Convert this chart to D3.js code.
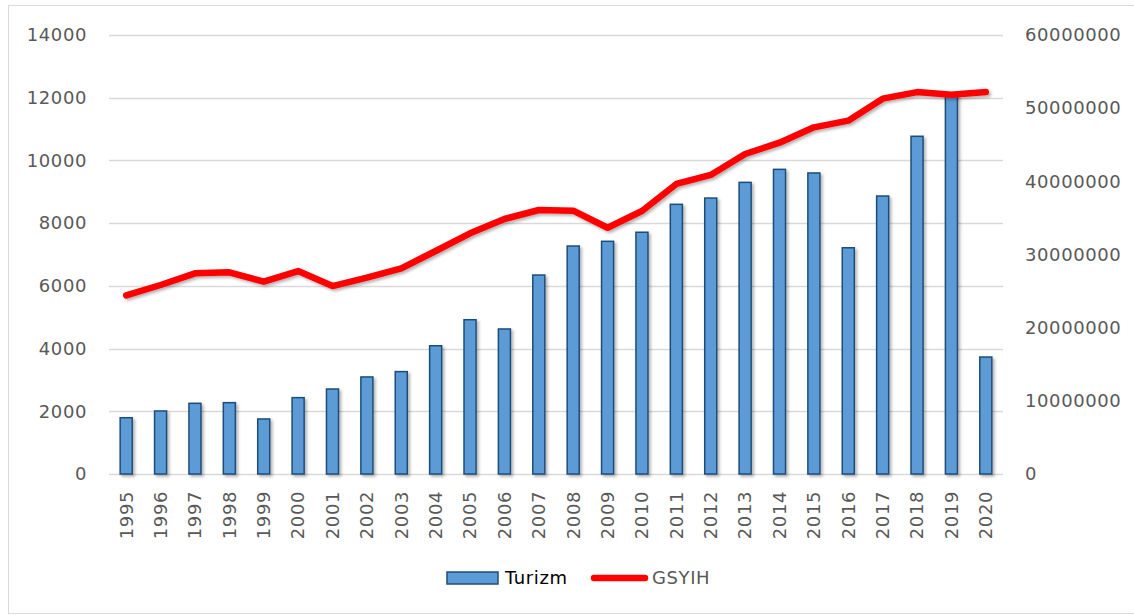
<!DOCTYPE html>
<html>
<head>
<meta charset="utf-8">
<script src="https://cdn.jsdelivr.net/npm/d3@7"></script>
<style>
  html, body { margin: 0; padding: 0; background: #fff; }
  svg { display: block; }
  text { font-family: "DejaVu Sans", sans-serif; letter-spacing: 0.6px; }
</style>
</head>
<body>
<svg id="chart" width="1134" height="616"></svg>
<script>
const years = ["1995","1996","1997","1998","1999","2000","2001","2002","2003","2004","2005","2006","2007","2008","2009","2010","2011","2012","2013","2014","2015","2016","2017","2018","2019","2020"];
const turizm = [1795,2010,2255,2275,1755,2435,2710,3095,3265,4090,4920,4625,6345,7270,7420,7710,8600,8800,9300,9715,9600,7215,8865,10770,12080,3730];
const gsyih = [24420000,25830000,27430000,27560000,26280000,27740000,25690000,26830000,28110000,30480000,32890000,34850000,36080000,35990000,33660000,35950000,39640000,40870000,43740000,45280000,47380000,48290000,51300000,52200000,51840000,52200000];
const leftTicks = [0,2000,4000,6000,8000,10000,12000,14000];
const rightTicks = [0,10000000,20000000,30000000,40000000,50000000,60000000];
const seriesNames = ["Turizm","GSYIH"];

const svg = d3.select("#chart");
const m = {left: 109, right: 1003, top: 35, bottom: 474};

// outer border
svg.append("rect").attr("x", 8.5).attr("y", 5.5).attr("width", 1140).attr("height", 608)
  .attr("fill", "#fff").attr("stroke", "#d9d9d9").attr("stroke-width", 1);

const defs = svg.append("defs");
const f = defs.append("filter").attr("id", "shadow").attr("x", "-30%").attr("y", "-10%").attr("width", "160%").attr("height", "130%");
f.append("feDropShadow").attr("dx", 2).attr("dy", 2).attr("stdDeviation", 1.8).attr("flood-color", "#000").attr("flood-opacity", 0.3);

const x = d3.scaleBand().domain(years).range([m.left, m.right]).paddingInner(0.65).paddingOuter(0.325);
const yL = d3.scaleLinear().domain([0, 14000]).range([m.bottom, m.top]);
const yR = d3.scaleLinear().domain([0, 60000000]).range([m.bottom, m.top]);

// gridlines
svg.append("g").selectAll("line").data(leftTicks).join("line")
  .attr("x1", m.left).attr("x2", m.right)
  .attr("y1", d => Math.round(yL(d)) + 0.5).attr("y2", d => Math.round(yL(d)) + 0.5)
  .attr("stroke", "#d9d9d9").attr("stroke-width", 1.3);

// left axis
const axL = d3.axisLeft(yL).tickValues(leftTicks).tickSize(0).tickPadding(22).tickFormat(d3.format("d"));
const gL = svg.append("g").attr("transform", `translate(${m.left},0)`).call(axL);
gL.select(".domain").remove();
gL.selectAll("text").attr("fill", "#595959").style("font-size", "18px");

// right axis
const axR = d3.axisRight(yR).tickValues(rightTicks).tickSize(0).tickPadding(22).tickFormat(d3.format("d"));
const gR = svg.append("g").attr("transform", `translate(${m.right},0)`).call(axR);
gR.select(".domain").remove();
gR.selectAll("text").attr("fill", "#595959").style("font-size", "18px");

// bars
svg.append("g").attr("filter", "url(#shadow)").selectAll("rect").data(years).join("rect")
  .attr("x", d => x(d)).attr("width", x.bandwidth())
  .attr("y", (d, i) => yL(turizm[i])).attr("height", (d, i) => m.bottom - yL(turizm[i]))
  .attr("fill", "#5b9bd5").attr("stroke", "#1f4e79").attr("stroke-width", 1.5);

// x axis labels
const axX = d3.axisBottom(x).tickSize(0).tickPadding(0);
const gX = svg.append("g").attr("transform", `translate(0,${m.bottom})`).call(axX);
gX.select(".domain").remove();
gX.selectAll("text").attr("fill", "#595959").style("font-size", "18px")
  .attr("text-anchor", "end").attr("dy", "0.35em")
  .attr("transform", "translate(0,17) rotate(-90)").attr("x", 0).attr("y", 0);

// line
const line = d3.line().x((d, i) => x(years[i]) + x.bandwidth() / 2).y(d => yR(d));
svg.append("path").datum(gsyih).attr("d", line)
  .attr("fill", "none").attr("stroke", "#ff0000").attr("stroke-width", 6.5)
  .attr("stroke-linejoin", "round").attr("stroke-linecap", "round").attr("filter", "url(#shadow)");

// legend
const lg = svg.append("g");
lg.append("rect").attr("x", 447).attr("y", 572).attr("width", 51).attr("height", 12)
  .attr("fill", "#5b9bd5").attr("stroke", "#1f4e79").attr("stroke-width", 1.5);
lg.append("text").attr("x", 505).attr("y", 578).attr("dy", "0.35em").attr("fill", "#000")
  .style("font-size", "18px").text(seriesNames[0]);
lg.append("line").attr("x1", 594).attr("x2", 645).attr("y1", 578).attr("y2", 578)
  .attr("stroke", "#ff0000").attr("stroke-width", 6.5).attr("stroke-linecap", "round");
lg.append("text").attr("x", 652).attr("y", 578).attr("dy", "0.35em").attr("fill", "#595959")
  .style("font-size", "18px").text(seriesNames[1]);
</script>
</body>
</html>
